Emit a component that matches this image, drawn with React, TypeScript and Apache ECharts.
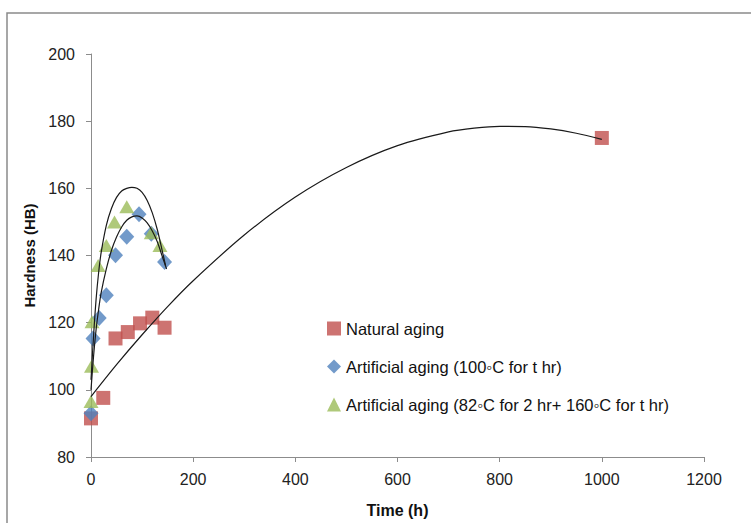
import React, { useEffect, useRef } from "react";
import * as echarts from "echarts";

// Scatter data
const naturalT = [0, 24, 48, 72, 96, 120, 144, 1000];
const naturalHB = [91.5, 97.6, 115.3, 117.2, 119.8, 121.5, 118.5, 175];

const art100T = [0, 4, 16, 30, 48, 70, 94, 118, 144];
const art100HB = [93, 115.3, 121.4, 128.2, 140.1, 145.6, 152.3, 146.5, 138.1];

const art160T = [0, 1, 2, 14, 30, 46, 70, 118, 135];
const art160HB = [96.5, 107, 120.3, 137, 143, 150, 154.5, 146.8, 143];

// Trendlines
const natTrendT = [0, 50, 100, 150, 200, 300, 400, 500, 600, 700, 750, 800, 850, 900, 950, 1000];
const natTrendHB = [98, 107.5, 116.4, 124.8, 132.5, 146.1, 157.4, 166.2, 172.7, 176.8, 177.9, 178.45, 178.4, 177.7, 176.4, 174.6];

const a100TrendT = [0, 5, 10, 15, 20, 30, 40, 50, 60, 70, 80, 90, 100, 110, 120, 130, 140, 148];
const a100TrendHB = [100, 110, 118, 124, 129, 136, 141.5, 145.5, 148.5, 150.5, 151.5, 151.8, 151.2, 149.7, 147.3, 144, 139.5, 136];

const a160TrendT = [0, 5, 10, 15, 20, 30, 40, 50, 60, 70, 80, 90, 100, 110, 120, 130, 140, 146];
const a160TrendHB = [103, 116, 127, 135, 141, 149, 154, 157.3, 159.2, 160, 160.3, 160, 158.8, 156.4, 152.7, 147.6, 141, 137];

const xTicks = { min: 0, max: 1200, interval: 200 };
const yTicks = { min: 80, max: 200, interval: 20 };

const names = [
  "Natural aging",
  "Artificial aging (100\u25E6C for t hr)",
  "Artificial aging (82\u25E6C for 2 hr+ 160\u25E6C for t hr)",
];

const zip = (a: number[], b: number[]) => a.map((v, i) => [v, b[i]]);

export default function App() {
  const ref = useRef<HTMLDivElement>(null);
  useEffect(() => {
    if (!ref.current) return;
    const chart = echarts.init(ref.current, null, { renderer: "svg" });
    const font = "'Liberation Sans', Arial, sans-serif";
    const axisCommon = {
      axisLine: { show: true, lineStyle: { color: "#8c8c8c", width: 1 } },
      axisTick: { show: true, inside: false, length: 5, lineStyle: { color: "#8c8c8c" } },
      splitLine: { show: false },
    };
    const trend = (t: number[], v: number[]) => ({
      type: "line",
      data: zip(t, v),
      smooth: 0.3,
      showSymbol: false,
      symbol: "none",
      lineStyle: { color: "#1a1a1a", width: 1.2 },
      z: 5,
      silent: true,
    });
    chart.setOption({
      animation: false,
      backgroundColor: "#fff",
      textStyle: { fontFamily: font },
      graphic: [
        {
          type: "rect",
          shape: { x: 7, y: 13, width: 800, height: 560 },
          style: { fill: "none", stroke: "#8a8a8a", lineWidth: 1.5 },
          silent: true,
        },
      ],
      grid: { left: 91, right: 47, top: 54, bottom: 66 },
      xAxis: {
        type: "value",
        ...xTicks,
        ...axisCommon,
        name: "Time (h)",
        nameLocation: "middle",
        nameGap: 45,
        nameTextStyle: { fontFamily: font, fontWeight: "bold", fontSize: 16, color: "#111" },
        axisLabel: { fontFamily: font, fontSize: 16, color: "#222", margin: 14, formatter: (v: number) => String(v) },
      },
      yAxis: {
        type: "value",
        ...yTicks,
        ...axisCommon,
        name: "Hardness (HB)",
        nameLocation: "middle",
        nameGap: 53,
        nameTextStyle: { fontFamily: font, fontWeight: "bold", fontSize: 15, color: "#111" },
        axisLabel: { fontFamily: font, fontSize: 16, color: "#222", margin: 16, formatter: (v: number) => String(v) },
      },
      legend: {
        orient: "vertical",
        left: 322,
        top: 315,
        itemWidth: 14,
        itemHeight: 14,
        itemGap: 21,
        data: names,
        textStyle: { fontFamily: font, fontSize: 16.5, color: "#111", lineHeight: 16 },
      },
      series: [
        {
          name: names[0],
          type: "scatter",
          symbol: "rect",
          symbolSize: 14,
          itemStyle: { color: "#C0504D" },
          data: zip(naturalT, naturalHB),
          z: 2,
        },
        {
          name: names[1],
          type: "scatter",
          symbol: "diamond",
          symbolSize: [15, 16],
          itemStyle: { color: "#4F81BD" },
          data: zip(art100T, art100HB),
          z: 3,
        },
        {
          name: names[2],
          type: "scatter",
          symbol: "triangle",
          symbolSize: [15, 13],
          itemStyle: { color: "#9BBB59" },
          data: zip(art160T, art160HB),
          z: 4,
        },
        trend(natTrendT, natTrendHB),
        trend(a100TrendT, a100TrendHB),
        trend(a160TrendT, a160TrendHB),
      ],
    });
    return () => chart.dispose();
  }, []);
  return (
    <div
      ref={ref}
      style={{ position: "absolute", left: 0, top: 0, width: 751, height: 523 }}
    />
  );
}
